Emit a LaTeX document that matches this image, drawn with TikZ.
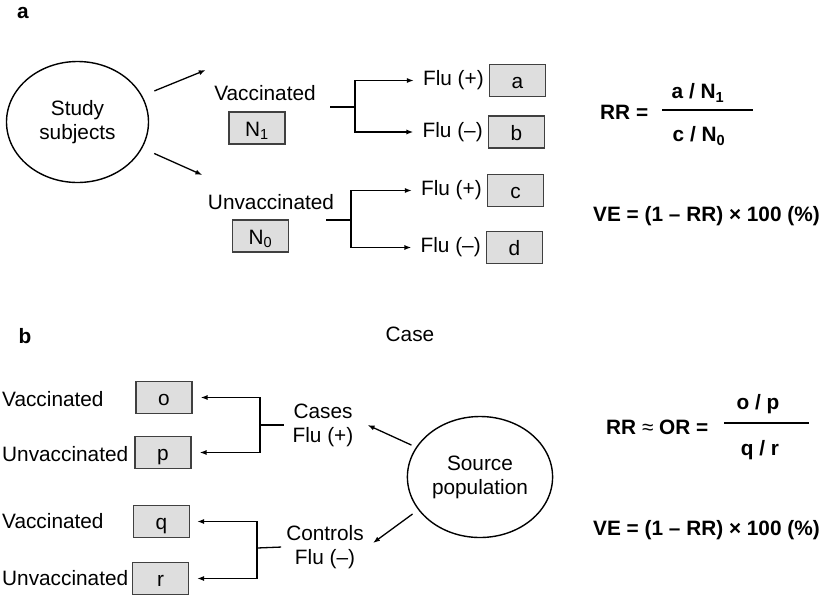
\documentclass[tikz,border=0pt]{standalone}
\usepackage{fontspec}
\setmainfont{Liberation Sans}
\usepackage{tikz}
\usetikzlibrary{arrows.meta, positioning, shapes.geometric}
\newcommand\bodysize{\fontsize{20.8}{24}\selectfont}
\tikzset{>={Latex[length=7pt,width=5pt]}}
\tikzset{group/.style = {shape=ellipse,draw,line width=1.4pt,minimum width=142pt,minimum height=121pt,align=center}}
\tikzset{count/.style = {shape=rectangle,draw=black!75,fill=black!13,line width=1.1pt,minimum width=56pt,minimum height=32pt,text height=19pt,text depth=3pt}}
\tikzset{edge/.style = {->,line width=1.3pt}}
\tikzset{stub/.style = {line width=1.3pt}}
\tikzset{bar/.style = {line width=1.8pt}}
\tikzset{head/.style = {font=\bodysize\bfseries}}
\tikzset{formula/.style = {font=\bodysize\bfseries,anchor=west,inner sep=0pt}}

\begin{document}
\begin{tikzpicture}[x=1pt,y=-1pt,font=\bodysize]
  \useasboundingbox (0,0) rectangle (827,595);

  % (a) cohort design
  \node[head] (pa) at (23,13) {a};
  \node[group] (study) at (77.5,122) {Study\\subjects};
  \node (vac) at (265,93) {Vaccinated};
  \node[count] (n1) at (257,128) {N\textsubscript{1}};
  \node (unvac) at (271,202) {Unvaccinated};
  \node[count] (n0) at (260.5,236) {N\textsubscript{0}};

  \draw[edge, shorten <=13pt] (study.22) -- ([shift={(-5pt,23pt)}]vac.west);
  \draw[edge, shorten <=13pt] (study.-22) -- ([shift={(-2pt,27pt)}]unvac.west);

  \node[count] (a) at (517.5,80.5) {a};
  \node[count] (b) at (516.5,132) {b};
  \node[count] (c) at (515.5,190.5) {c};
  \node[count] (d) at (514.5,247.5) {d};
  \node[left=0pt of a, inner xsep=5pt] (fa) {Flu (+)};
  \node[left=0pt of b, inner xsep=5pt] (fb) {Flu (–)};
  \node[left=0pt of c, inner xsep=5pt] (fc) {Flu (+)};
  \node[left=0pt of d, inner xsep=5pt] (fd) {Flu (–)};

  \coordinate (vj) at (355,107);
  \coordinate (uj) at (351,220);
  \draw[stub] (vj) -- ++(-25,0);
  \draw[edge, shorten >=4pt] (vj) |- (fa);
  \draw[edge, shorten >=4pt] (vj) |- (fb);
  \draw[stub] (uj) -- ++(-25,0);
  \draw[edge, shorten >=4pt] (uj) |- (fc);
  \draw[edge, shorten >=4pt] (uj) |- (fd);

  \node[formula] (rr) at (600,112) {RR =};
  \node[formula, anchor=center] (rrnum) at (698,93) {a / N\textsubscript{1}};
  \node[formula, anchor=center] (rrden) at (699,136) {c / N\textsubscript{0}};
  \draw[bar] (662,110) -- (753,110);
  \node[formula] (vea) at (593,216) {VE = (1 – RR) × 100 (\%)};

  % (b) case-control design
  \node[head] (pb) at (25,336) {b};
  \node (case) at (410,334) {Case};
  \node[group] (src) at (480,477) {Source\\population};
  \node[align=center, inner xsep=4pt] (cases) at (323,425) {Cases\\Flu (+)};
  \node[align=center, inner xsep=4pt] (ctrl) at (325,547) {Controls\\Flu (–)};

  \node[count] (o) at (164,397.5) {o};
  \node[count] (p) at (163,452.5) {p};
  \node[count] (q) at (161.5,521.5) {q};
  \node[count] (r) at (160.5,578.5) {r};
  \node[anchor=west, inner sep=0pt] (ov) at (2,399) {Vaccinated};
  \node[anchor=west, inner sep=0pt] (pu) at (2,454) {Unvaccinated};
  \node[anchor=west, inner sep=0pt] (qv) at (2,521) {Vaccinated};
  \node[anchor=west, inner sep=0pt] (ru) at (2,578) {Unvaccinated};

  \coordinate (cj) at (260,425);
  \coordinate (kj) at (257,548);
  \draw[stub, shorten >=4pt] (cj) -- (cases.west);
  \draw[edge, shorten >=8pt] (cj) |- (o);
  \draw[edge, shorten >=8pt] (cj) |- (p);
  \draw[stub, shorten >=1pt] (kj) -- (ctrl.west);
  \draw[edge, shorten >=7pt] (kj) |- (q);
  \draw[edge, shorten >=8pt] (kj) |- (r);

  \draw[edge, shorten <=5pt] (src.155) -- ([xshift=10pt]cases.east);
  \draw[edge, shorten <=7pt] (src.208) -- ([shift={(5pt,4pt)}]ctrl.east);

  \node[formula] (rrb) at (606,427) {RR {\mdseries ≈} OR =};
  \node[formula, anchor=center] (ornum) at (758,404) {o / p};
  \node[formula, anchor=center] (orden) at (760,450) {q / r};
  \draw[bar] (724,423) -- (809,423);
  \node[formula] (veb) at (593,530) {VE = (1 – RR) × 100 (\%)};
\end{tikzpicture}
\end{document}
